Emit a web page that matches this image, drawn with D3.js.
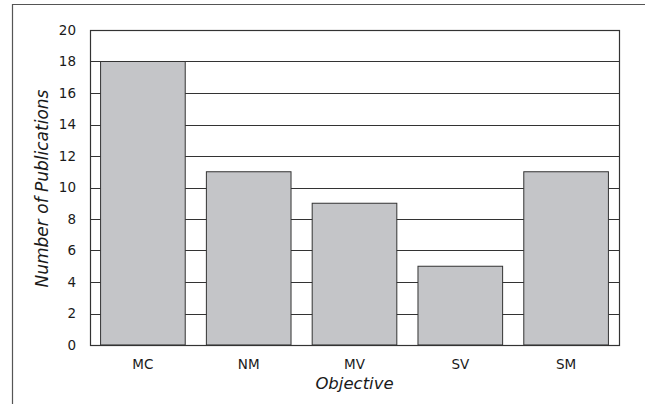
<!DOCTYPE html>
<html>
<head>
<meta charset="utf-8">
<script src="https://d3js.org/d3.v7.min.js"></script>
<style>
  body { margin: 0; background: #fff; }
  svg { display: block; font-family: "DejaVu Sans", sans-serif; }
</style>
</head>
<body>
<div id="chart"></div>
<script>
var categories = ["MC", "NM", "MV", "SV", "SM"];
var publications = [18, 11, 9, 5, 11];
var yTicks = [0, 2, 4, 6, 8, 10, 12, 14, 16, 18, 20];

var width = 645, height = 404;
var margin = { top: 30, right: 26, bottom: 59, left: 90 };

var svg = d3.select("#chart").append("svg")
            .attr("width", width)
            .attr("height", height);

// outer frame (only top and left edges show)
svg.append("path")
   .attr("d", "M12.5," + height + "V4.5H" + width)
   .attr("fill", "none")
   .attr("stroke", "#555")
   .attr("stroke-width", 1.2);

var x = d3.scaleBand()
          .domain(categories)
          .range([margin.left, width - margin.right])
          .paddingInner(0.2)
          .paddingOuter(0.1);

var y = d3.scaleLinear()
          .domain([0, 20])
          .range([height - margin.bottom, margin.top]);

// grid lines
svg.append("g").selectAll("line")
   .data(yTicks)
   .enter()
   .append("line")
   .attr("x1", margin.left)
   .attr("x2", width - margin.right)
   .attr("y1", function (d) { return Math.round(y(d)) + 0.5; })
   .attr("y2", function (d) { return Math.round(y(d)) + 0.5; })
   .attr("stroke", "#333")
   .attr("stroke-width", 1.1);

// bars
svg.append("g").selectAll("rect")
   .data(publications)
   .enter()
   .append("rect")
   .attr("x", function (d, i) { return x(categories[i]); })
   .attr("y", function (d) { return y(d); })
   .attr("width", x.bandwidth())
   .attr("height", function (d) { return y(0) - y(d); })
   .attr("fill", "#c4c5c8")
   .attr("stroke", "#333")
   .attr("stroke-width", 1);

// plot frame
svg.append("rect")
   .attr("x", margin.left + 0.5)
   .attr("y", margin.top + 0.5)
   .attr("width", width - margin.right - margin.left)
   .attr("height", height - margin.bottom - margin.top)
   .attr("fill", "none")
   .attr("stroke", "#333")
   .attr("stroke-width", 1.2);

// y axis
var yAxis = svg.append("g")
   .attr("transform", "translate(" + margin.left + ",0)")
   .call(d3.axisLeft(y).tickValues(yTicks).tickSize(0).tickPadding(14));
yAxis.select(".domain").remove();
yAxis.selectAll("text").attr("font-size", 13.5).attr("fill", "#1a1a1a")
     .attr("font-family", "DejaVu Sans, sans-serif");

// x axis
var xAxis = svg.append("g")
   .attr("transform", "translate(0," + (height - margin.bottom) + ")")
   .call(d3.axisBottom(x).tickSize(0).tickPadding(14));
xAxis.select(".domain").remove();
xAxis.selectAll("text").attr("font-size", 13.5).attr("fill", "#1a1a1a")
     .attr("font-family", "DejaVu Sans, sans-serif");

// axis titles
svg.append("text")
   .attr("x", (margin.left + width - margin.right) / 2)
   .attr("y", 389)
   .attr("text-anchor", "middle")
   .attr("font-size", 16.5)
   .attr("font-style", "italic")
   .attr("fill", "#1a1a1a")
   .text("Objective");

svg.append("text")
   .attr("transform", "translate(48," + ((margin.top + height - margin.bottom) / 2 + 1) + ") rotate(-90)")
   .attr("text-anchor", "middle")
   .attr("font-size", 17)
   .attr("font-style", "italic")
   .attr("fill", "#1a1a1a")
   .text("Number of Publications");
</script>
</body>
</html>
